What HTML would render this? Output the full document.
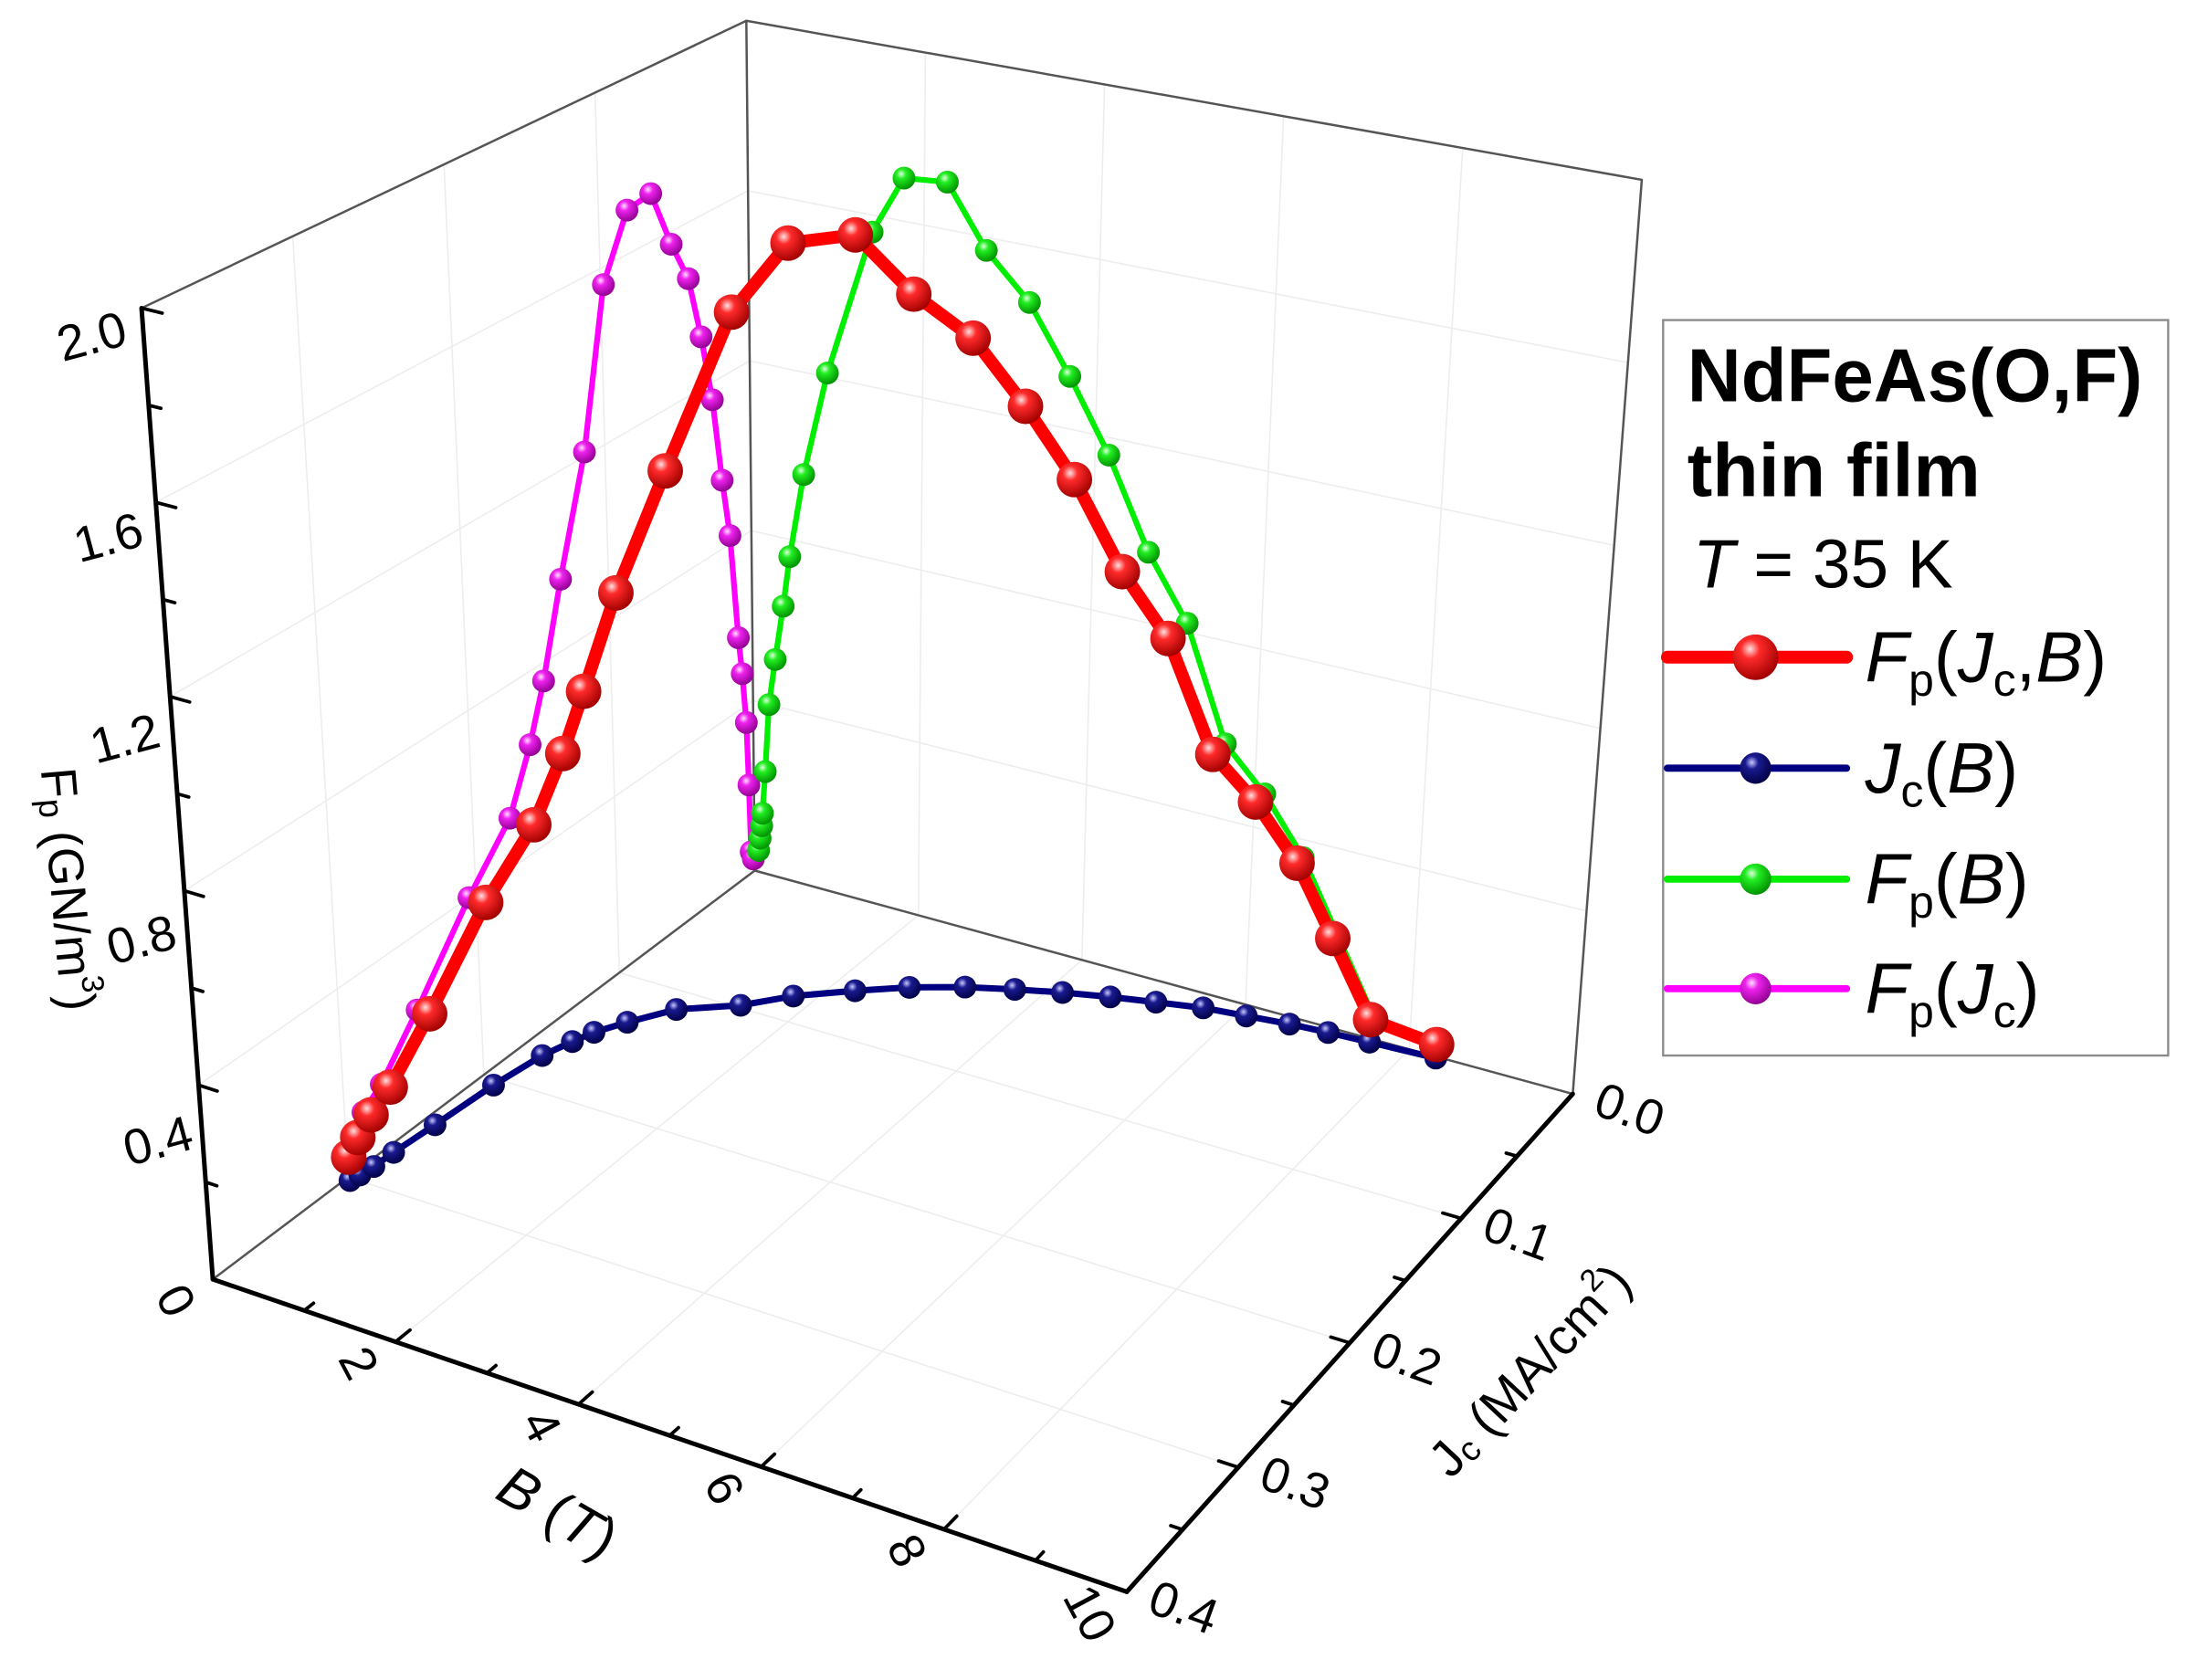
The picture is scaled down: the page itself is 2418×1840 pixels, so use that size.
<!DOCTYPE html>
<html><head><meta charset="utf-8"><title>NdFeAs(O,F) 3D pinning force</title>
<style>html,body{margin:0;padding:0;background:#fff;}svg{display:block;font-family:"Liberation Sans",Arial,sans-serif;}</style>
</head><body>
<svg id="chart" xmlns="http://www.w3.org/2000/svg" width="2418" height="1840" viewBox="0 0 1552 1181" preserveAspectRatio="none">
<defs>
<radialGradient id="gRed" cx="0.38" cy="0.32" r="0.7"><stop offset="0" stop-color="#ffe0e0"/><stop offset="0.3" stop-color="#ff2a2a"/><stop offset="1" stop-color="#a00000"/></radialGradient>
<radialGradient id="gBlue" cx="0.38" cy="0.32" r="0.7"><stop offset="0" stop-color="#c8c8ff"/><stop offset="0.3" stop-color="#1a1a90"/><stop offset="1" stop-color="#000045"/></radialGradient>
<radialGradient id="gGreen" cx="0.38" cy="0.32" r="0.7"><stop offset="0" stop-color="#e0ffe0"/><stop offset="0.3" stop-color="#22ee22"/><stop offset="1" stop-color="#009000"/></radialGradient>
<radialGradient id="gMag" cx="0.38" cy="0.32" r="0.7"><stop offset="0" stop-color="#ffe0ff"/><stop offset="0.3" stop-color="#ee22ee"/><stop offset="1" stop-color="#900090"/></radialGradient>
</defs>
<g id="grid"></g>
<g id="box"></g>
<g id="series"></g>
<g id="labels"></g>

<g>
<rect x="1169" y="225" width="355" height="517" fill="#fff" stroke="#8a8a8a" stroke-width="1.5"/>
<text x="1186" y="282" font-size="53" font-weight="bold" textLength="320" lengthAdjust="spacingAndGlyphs">NdFeAs(O,F)</text>
<text x="1186" y="349" font-size="53" font-weight="bold">thin film</text>
<text x="1190" y="413" font-size="48"><tspan font-style="italic">T</tspan> = 35 K</text>
<g>
<line x1="1172" y1="462" x2="1298" y2="462" stroke="#ff0000" stroke-width="9" stroke-linecap="round"/>
<circle cx="1234" cy="462" r="16" fill="url(#gRed)"/>
<text x="1311" y="479" font-size="50"><tspan font-style="italic">F</tspan><tspan font-size="32" dy="10">p</tspan><tspan dy="-10">(</tspan><tspan font-style="italic">J</tspan><tspan font-size="32" dy="10">c</tspan><tspan dy="-10">,</tspan><tspan font-style="italic">B</tspan>)</text>
</g>
<g>
<line x1="1172" y1="540" x2="1298" y2="540" stroke="#000080" stroke-width="5" stroke-linecap="round"/>
<circle cx="1234" cy="540" r="11" fill="url(#gBlue)"/>
<text x="1311" y="557" font-size="50"><tspan font-style="italic">J</tspan><tspan font-size="32" dy="10">c</tspan><tspan dy="-10">(</tspan><tspan font-style="italic">B</tspan>)</text>
</g>
<g>
<line x1="1172" y1="618" x2="1298" y2="618" stroke="#00ee00" stroke-width="5" stroke-linecap="round"/>
<circle cx="1234" cy="618" r="11" fill="url(#gGreen)"/>
<text x="1311" y="635" font-size="50"><tspan font-style="italic">F</tspan><tspan font-size="32" dy="10">p</tspan><tspan dy="-10">(</tspan><tspan font-style="italic">B</tspan>)</text>
</g>
<g>
<line x1="1172" y1="695" x2="1298" y2="695" stroke="#ff00ff" stroke-width="5" stroke-linecap="round"/>
<circle cx="1234" cy="695" r="11" fill="url(#gMag)"/>
<text x="1311" y="712" font-size="50"><tspan font-style="italic">F</tspan><tspan font-size="32" dy="10">p</tspan><tspan dy="-10">(</tspan><tspan font-style="italic">J</tspan><tspan font-size="32" dy="10">c</tspan><tspan dy="-10">)</tspan></text>
</g>
</g>
</svg>
<script>
// ---- data (B in T, Jc in MA/cm2, Fp in GN/m3) ----
const fieldB = [0.05,0.07,0.09,0.1,0.14,0.19,0.27,0.37,0.45,0.62,0.9,1.41,1.77,2.26,2.71,3.21,3.69,4.16,4.65,5.13,5.63,6.12,6.61,7.06,7.55,8.34];
const currentJc = [0.302,0.296,0.287,0.273,0.245,0.205,0.174,0.158,0.147,0.133,0.114,0.098,0.081,0.065,0.052,0.041,0.033,0.026,0.02,0.015,0.01,0.0075,0.005,0.0036,0.0025,0.001];
const forceFp = [0.05,0.08,0.11,0.14,0.24,0.40,0.51,0.64,0.76,0.96,1.21,1.56,1.70,1.71,1.57,1.47,1.32,1.16,0.96,0.82,0.57,0.48,0.36,0.21,0.05,0.03];
const bTicks = [0,2,4,6,8,10];
const jTicks = [0.0,0.1,0.2,0.3,0.4];
const fTicks = [0.4,0.8,1.2,1.6,2.0];

// ---- projection (box corners in view units) ----
const B_MAX = 10, J_MAX = 0.4, F_MAX = 2.0;
const FLOOR = [[530.5,612],[1105.5,769],[149.6,899.3],[792,1119]];
const TOP = [[524.6,14.6],[1154,126.4],[99.5,216.6],[822,390]];
function bil(C,u,v){
  const a=(1-u)*(1-v), b=u*(1-v), c=(1-u)*v, d=u*v;
  return [a*C[0][0]+b*C[1][0]+c*C[2][0]+d*C[3][0], a*C[0][1]+b*C[1][1]+c*C[2][1]+d*C[3][1]];
}
function proj(b,j,f){
  const u=b/B_MAX, v=j/J_MAX, h=f/F_MAX;
  const p=bil(FLOOR,u,v), t=bil(TOP,u,v);
  return [p[0]+h*(t[0]-p[0]), p[1]+h*(t[1]-p[1])];
}
const NS="http://www.w3.org/2000/svg";
function mk(parent,tag,attrs){
  const e=document.createElementNS(NS,tag);
  for(const k in attrs) e.setAttribute(k,attrs[k]);
  parent.appendChild(e); return e;
}
function seg(parent,a,b,stroke,w){
  return mk(parent,"line",{x1:a[0].toFixed(1),y1:a[1].toFixed(1),x2:b[0].toFixed(1),y2:b[1].toFixed(1),stroke:stroke,"stroke-width":w,"stroke-linecap":"round"});
}
const grid=document.getElementById("grid"), box=document.getElementById("box"),
      series=document.getElementById("series"), labels=document.getElementById("labels");
const GC="#ededed";
for(const b of [2,4,6,8]){
  let l=seg(grid,proj(b,0,0),proj(b,J_MAX,0),GC,1);
  
  
  l=seg(grid,proj(b,0,0),proj(b,0,F_MAX),GC,1);
  
  
}
for(const j of [0.1,0.2,0.3]){
  let l=seg(grid,proj(0,j,0),proj(B_MAX,j,0),GC,1);
  
  
  l=seg(grid,proj(0,j,0),proj(0,j,F_MAX),GC,1);
  
  
}
for(const f of fTicks.slice(0,4)){
  let l=seg(grid,proj(0,0,f),proj(B_MAX,0,f),GC,1);
  
  
  l=seg(grid,proj(0,0,f),proj(0,J_MAX,f),GC,1);
  
  
}
const thin="#555";
const edges=[[[0,0,0],[B_MAX,0,0]],[[0,0,0],[0,J_MAX,0]],[[0,0,0],[0,0,F_MAX]],[[0,0,F_MAX],[B_MAX,0,F_MAX]],[[0,0,F_MAX],[0,J_MAX,F_MAX]],[[B_MAX,0,0],[B_MAX,0,F_MAX]]];
for(const e of edges){
  const l=seg(box,proj(...e[0]),proj(...e[1]),thin,1.6);
  
  
}
let ax=seg(box,proj(0,J_MAX,0),proj(0,J_MAX,F_MAX),"#000",3.2);


ax=seg(box,proj(0,J_MAX,0),proj(B_MAX,J_MAX,0),"#000",3.2);


ax=seg(box,proj(B_MAX,J_MAX,0),proj(B_MAX,0,0),"#000",3.2);


for(let f=0.2; f<2.01; f+=0.2){
  const major=Math.abs(f/0.4-Math.round(f/0.4))<1e-6;
  const t=seg(box,proj(0,J_MAX,f),proj(major?0.2:0.12,J_MAX,f),"#000",2.4);
  
  
}
for(let b=1; b<=9; b++){
  const major=b%2===0;
  const t=seg(box,proj(b,J_MAX,0),proj(b,J_MAX-(major?0.011:0.007),0),"#000",2.4);
  
  
}
for(let k=1; k<=7; k++){
  const j=k*0.05, major=k%2===0;
  const t=seg(box,proj(B_MAX,j,0),proj(B_MAX-(major?0.22:0.13),j,0),"#000",2.4);
  
  
}
function drawSeries(name,pts,color,w,grad,r){
  const g=mk(series,"g",{});
  
  
  const pl=mk(g,"polyline",{points:pts.map(p=>p[0].toFixed(1)+","+p[1].toFixed(1)).join(" "),fill:"none",stroke:color,"stroke-width":w,"stroke-linejoin":"round","stroke-linecap":"round"});
  
  
  for(const p of pts){
    const c=mk(g,"circle",{cx:p[0].toFixed(1),cy:p[1].toFixed(1),r:r,fill:"url(#"+grad+")"});
    
    
  }
}
const n=fieldB.length;
const blue=[],mag=[],green=[],red=[];
for(let i=0;i<n;i++){
  blue.push(proj(fieldB[i],currentJc[i],0));
  mag.push(proj(0,currentJc[i],forceFp[i]));
  green.push(proj(fieldB[i],0,forceFp[i]));
  red.push(proj(fieldB[i],currentJc[i],forceFp[i]));
}
drawSeries("jc-b-series",blue,"#000080",4.5,"gBlue",8);
drawSeries("fp-jc-series",mag,"#ff00ff",4,"gMag",8);
drawSeries("fp-b-series",green,"#00ee00",4,"gGreen",8);
drawSeries("fp-jc-b-series",red,"#ff0000",9,"gRed",12.5);
function txt(name,x,y,rot,size,content,anchor){
  const t=mk(labels,"text",{x:0,y:0,"font-size":size,"text-anchor":anchor||"middle","dominant-baseline":"central",transform:"translate("+x.toFixed(1)+","+y.toFixed(1)+") rotate("+rot+")"});
  
  
  t.innerHTML=content; return t;
}
for(const f of fTicks){
  const p=proj(0,J_MAX,f);
  txt('fp-tick-label',p[0]-35+(2-f)*4,p[1]+20+(2-f)*12,-15,35,f.toFixed(1));
}
for(const b of bTicks){
  const p=proj(b,J_MAX,0);
  txt('b-tick-label',p[0]-26,p[1]+15,62,35,String(b));
}
for(const j of jTicks){
  const p=proj(B_MAX,j,0);
  txt('jc-tick-label',p[0]+40,p[1]+11,20,35,j.toFixed(1));
}
txt('fp-axis-title',48,625,85,35,'F<tspan font-size="24" dy="7">p</tspan><tspan dy="-7"> (GN/m</tspan><tspan font-size="22" dy="-11">3</tspan><tspan dy="11">)</tspan>');
txt('b-axis-title',392,1063,30,40,'<tspan font-style="italic">B</tspan> (<tspan font-style="italic">T</tspan>)');
txt('jc-axis-title',1075,963,-47,36,'J<tspan font-size="24" dy="7">c</tspan><tspan dy="-7"> (MA/cm</tspan><tspan font-size="22" dy="-11">2</tspan><tspan dy="11">)</tspan>');
</script>
</body></html>
